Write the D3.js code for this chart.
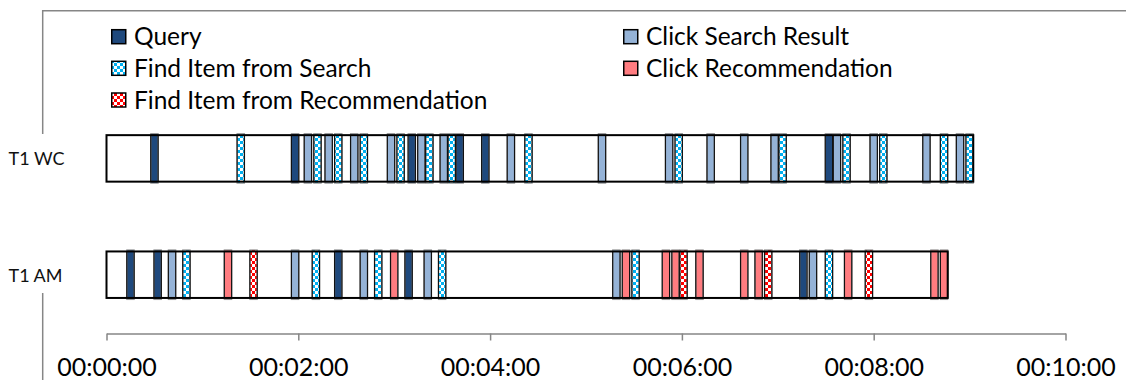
<!DOCTYPE html>
<html>
<head>
<meta charset="utf-8">
<script src="https://cdn.jsdelivr.net/npm/d3@7"></script>
<style>
  body { margin: 0; background: #fff; }
  svg { display: block; }
  text { font-family: Lato, "Open Sans", sans-serif; fill: #000; }
</style>
</head>
<body>
<svg id="chart" width="1126" height="380"></svg>
<script>
// Event categories (legend order) and their short codes
const eventTypes = ["Query", "Click Search Result", "Find Item from Search", "Click Recommendation", "Find Item from Recommendation"];
const typeCodes  = ["Q", "CS", "FS", "CR", "FR"];

// Session rows
const rowLabels = ["T1 WC", "T1 AM"];

// T1 WC: event timestamps (seconds from session start) and event codes
const wcTimes = [30, 84, 118, 126, 132, 139, 145, 155, 161, 178, 184, 191, 197, 202, 211, 216, 221, 237, 253, 264,
                 310, 352, 358, 378, 399, 418, 423, 452, 457, 463, 480, 486, 513, 524, 534, 540];
const wcTypes = ["Q", "FS", "Q", "CS", "FS", "CS", "FS", "CS", "FS", "CS", "FS", "Q", "CS", "FS", "CS", "FS", "Q", "Q", "CS", "FS",
                 "CS", "CS", "FS", "CS", "CS", "CS", "FS", "Q", "CS", "FS", "CS", "FS", "CS", "FS", "CS", "FS"];

// T1 AM: event timestamps (seconds) and event codes
const amTimes = [15, 32, 41, 50, 76, 92, 118, 131, 145, 161, 170, 180, 189, 201, 210, 319, 325, 331, 350, 356,
                 361, 371, 399, 408, 414, 436, 442, 452, 464, 477, 518, 524];
const amTypes = ["Q", "Q", "CS", "FS", "CR", "FR", "CS", "FS", "Q", "CS", "FS", "CR", "Q", "CS", "FS", "CS", "CR", "FS", "CR", "CR",
                 "FR", "CR", "CR", "CR", "FR", "Q", "CS", "FS", "CR", "FR", "CR", "CR"];

// Time axis ticks
const tickSeconds = [0, 120, 240, 360, 480, 600];
const tickLabels  = ["00:00:00", "00:02:00", "00:04:00", "00:06:00", "00:08:00", "00:10:00"];

// ---- styling ----
const solidColors = { Q: "#1F497D", CS: "#95B3D7", CR: "#FF7C80" };
const patternColors = { FS: "#00B0F0", FR: "#FF0000" };
const EVENT_SECONDS = 4.6;   // drawn width of one event
const BOX_H = 46.5;

const svg = d3.select("#chart");
const defs = svg.append("defs");

// checkerboard fills for the "Find Item" events
Object.entries(patternColors).forEach(([code, color]) => {
  const p = defs.append("pattern")
    .attr("id", "pat-" + code)
    .attr("patternUnits", "userSpaceOnUse")
    .attr("width", 6).attr("height", 6);
  p.append("rect").attr("width", 6).attr("height", 6).attr("fill", color);
  p.append("rect").attr("x", 0).attr("y", 0).attr("width", 3).attr("height", 3).attr("fill", "#fff");
  p.append("rect").attr("x", 3).attr("y", 3).attr("width", 3).attr("height", 3).attr("fill", "#fff");
});

const fillFor = code => solidColors[code] || `url(#pat-${code})`;

// ---- scales ----
const x = d3.scaleLinear().domain([0, 600]).range([106.5, 1065.5]);
const y = d3.scalePoint().domain(rowLabels).range([158.4, 274.7]);

// ---- outer frame lines ----
const frameColor = "#868686";
svg.append("line").attr("x1", 42.7).attr("x2", 1126).attr("y1", 10.7).attr("y2", 10.7)
  .attr("stroke", frameColor).attr("stroke-width", 1.5);
svg.append("line").attr("x1", 42.7).attr("x2", 42.7).attr("y1", 10).attr("y2", 134)
  .attr("stroke", frameColor).attr("stroke-width", 1.5);
svg.append("line").attr("x1", 42.7).attr("x2", 42.7).attr("y1", 293).attr("y2", 380)
  .attr("stroke", frameColor).attr("stroke-width", 1.5);

// ---- legend ----
const legendCols = [111, 623];
const legendRows = [36.7, 68.3, 100];
const legend = svg.append("g");
eventTypes.forEach((name, i) => {
  const lx = legendCols[i % 2];
  const cy = legendRows[Math.floor(i / 2)];
  legend.append("rect")
    .attr("x", lx + 0.75).attr("y", cy - 7)
    .attr("width", 14).attr("height", 14)
    .attr("fill", fillFor(typeCodes[i]))
    .attr("stroke", "#000").attr("stroke-width", 1.5);
  legend.append("text")
    .attr("x", lx + 23).attr("y", cy + 8.6)
    .style("font-size", "24.5px")
    .text(name);
});

// ---- session rows ----
const sessions = [
  { label: rowLabels[0], times: wcTimes, types: wcTypes },
  { label: rowLabels[1], times: amTimes, types: amTypes }
];

sessions.forEach(s => {
  const cy = y(s.label);
  const top = cy - BOX_H / 2;
  const end = d3.max(s.times) + EVENT_SECONDS / 2;
  const g = svg.append("g");

  g.append("text")
    .attr("x", 8.5).attr("y", cy + 7)
    .style("font-size", "18px")
    .style("fill", "#111")
    .text(s.label);

  // session span
  g.append("rect")
    .attr("x", x(0)).attr("y", top)
    .attr("width", x(end) - x(0)).attr("height", BOX_H)
    .attr("fill", "#fff");

  const events = s.times.map((t, i) => ({ t, code: s.types[i] }));

  // event blocks
  g.selectAll("rect.ev").data(events).join("rect")
    .attr("class", "ev")
    .attr("x", d => x(d.t - EVENT_SECONDS / 2))
    .attr("y", top - 1.5)
    .attr("width", d => x(d.t + EVENT_SECONDS / 2) - x(d.t - EVENT_SECONDS / 2))
    .attr("height", BOX_H + 3)
    .attr("fill", d => fillFor(d.code))
    .attr("stroke", "#9a9a9a").attr("stroke-width", 1.2);

  // dark edges of each block
  g.selectAll("path.edge").data(events).join("path")
    .attr("class", "edge")
    .attr("d", d => {
      const a = x(d.t - EVENT_SECONDS / 2), b = x(d.t + EVENT_SECONDS / 2);
      return `M${a},${top}V${top + BOX_H}M${b},${top}V${top + BOX_H}`;
    })
    .attr("stroke", "#111").attr("stroke-width", 1.2).attr("fill", "none");

  // session outline
  g.append("rect")
    .attr("x", x(0)).attr("y", top)
    .attr("width", x(end) - x(0)).attr("height", BOX_H)
    .attr("fill", "none")
    .attr("stroke", "#000").attr("stroke-width", 2);
});

// ---- time axis ----
const axis = d3.axisBottom(x)
  .tickValues(tickSeconds)
  .tickFormat((d, i) => tickLabels[i])
  .tickSize(7)
  .tickSizeOuter(0);

const gAxis = svg.append("g")
  .attr("transform", "translate(0,333.5)")
  .call(axis);
gAxis.select(".domain").attr("stroke", frameColor).attr("stroke-width", 1.5);
gAxis.selectAll(".tick line").attr("stroke", frameColor).attr("stroke-width", 1.5);
gAxis.selectAll(".tick text")
  .attr("y", 42).attr("dy", 0)
  .style("font-family", "Lato, sans-serif")
  .style("font-size", "25px")
  .attr("fill", "#000");
</script>
</body>
</html>
